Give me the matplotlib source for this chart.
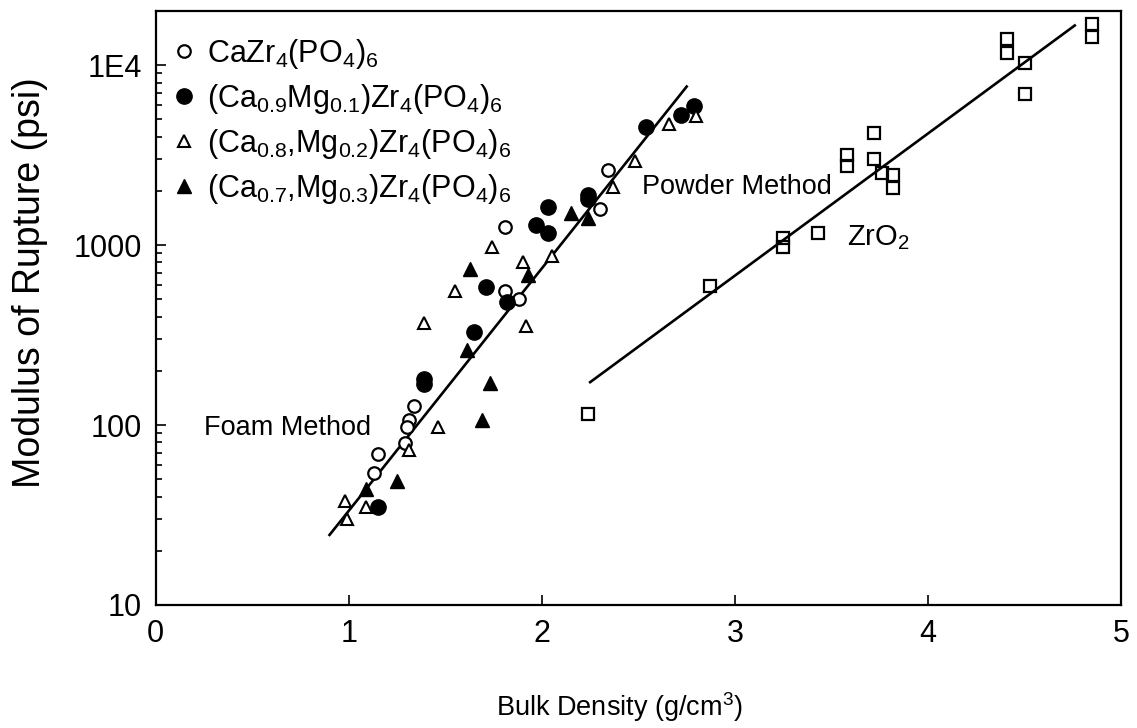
import matplotlib.pyplot as plt
import numpy as np
from matplotlib.ticker import FixedLocator, LogLocator, NullFormatter

plt.rcParams['font.family'] = ['Liberation Sans', 'DejaVu Sans']
plt.rcParams['mathtext.fontset'] = 'custom'
plt.rcParams['mathtext.rm'] = 'Liberation Sans'
plt.rcParams['mathtext.it'] = 'Liberation Sans'

# CaZr4(PO4)6  (open circles)
ca_x = [1.81, 1.81, 1.88, 1.34, 1.31, 1.30, 1.29, 1.15, 1.13, 2.34, 2.30]
ca_y = [1260, 555, 500, 127, 107, 98, 79, 69, 54, 2600, 1590]

# (Ca0.9Mg0.1)  (filled circles)
mg1_x = [1.97, 2.03, 2.03, 1.71, 1.82, 1.65, 1.39, 1.39, 1.15, 2.79, 2.72, 2.54, 2.24, 2.24]
mg1_y = [1290, 1170, 1620, 585, 480, 330, 180, 170, 35, 5900, 5300, 4550, 1900, 1800]

# (Ca0.8,Mg0.2)  (open triangles)
mg2_x = [1.74, 1.90, 1.55, 1.39, 1.92, 1.46, 1.31, 0.98, 1.09, 0.99, 2.80, 2.66, 2.48, 2.37, 2.05]
mg2_y = [980, 810, 555, 370, 355, 98, 73, 38, 35, 30, 5200, 4700, 2950, 2100, 870]

# (Ca0.7,Mg0.3)  (filled triangles)
mg3_x = [1.63, 1.93, 1.61, 1.73, 1.69, 1.25, 1.09, 2.15, 2.24]
mg3_y = [740, 680, 260, 172, 106, 49, 44, 1500, 1420]

# ZrO2 (open squares)
zr_x = [4.85, 4.85, 4.41, 4.41, 4.50, 4.50, 3.72, 3.58, 3.58, 3.72, 3.76, 3.82, 3.82,
        3.25, 3.25, 3.43, 2.87, 2.24]
zr_y = [17000, 14400, 13900, 11700, 10300, 6950, 4170, 3150, 2750, 3000, 2520, 2450, 2080,
        1100, 980, 1170, 590, 115]

# fitted lines (end points)
foam_line_x = [0.90, 2.75]
foam_line_y = [24.5, 7600]
zr_line_x = [2.25, 4.76]
zr_line_y = [173, 16600]

labels = [r'CaZr$_4$(PO$_4$)$_6$',
          r'(Ca$_{0.9}$Mg$_{0.1}$)Zr$_4$(PO$_4$)$_6$',
          r'(Ca$_{0.8}$,Mg$_{0.2}$)Zr$_4$(PO$_4$)$_6$',
          r'(Ca$_{0.7}$,Mg$_{0.3}$)Zr$_4$(PO$_4$)$_6$']

fig = plt.figure(figsize=(11.37, 7.28), dpi=100)
ax = fig.add_axes([0.137, 0.169, 0.849, 0.816])

ax.plot(foam_line_x, foam_line_y, color='black', lw=1.9, zorder=1)
ax.plot(zr_line_x, zr_line_y, color='black', lw=1.9, zorder=1)

ax.plot(ca_x, ca_y, 'o', ms=9, mfc='white', mec='black', mew=1.6, ls='none', label=labels[0])
ax.plot(mg1_x, mg1_y, 'o', ms=11, mfc='black', mec='black', ls='none', label=labels[1])
ax.plot(mg2_x, mg2_y, '^', ms=8, mfc='white', mec='black', mew=1.5, ls='none', label=labels[2])
ax.plot(mg3_x, mg3_y, '^', ms=10, mfc='black', mec='black', ls='none', label=labels[3])
ax.plot(zr_x, zr_y, 's', ms=9, mfc='none', mec='black', mew=1.6, ls='none')

ax.set_yscale('log')
ax.set_xlim(0, 5)
ax.set_ylim(10, 2e4)

ax.xaxis.set_major_locator(FixedLocator([0, 1, 2, 3, 4, 5]))
ax.yaxis.set_major_locator(FixedLocator([10, 100, 1000, 10000]))
ax.set_yticklabels(['10', '100', '1000', '1E4'])
ax.yaxis.set_minor_locator(LogLocator(base=10, subs=np.arange(2, 10)))
ax.yaxis.set_minor_formatter(NullFormatter())
ax.tick_params(axis='both', which='major', direction='in', length=7, width=1.2,
               labelsize=22, pad=10)
ax.tick_params(axis='y', which='minor', direction='in', length=4, width=1.2)

for s in ax.spines.values():
    s.set_linewidth(1.6)

ax.set_xlabel(r'Bulk Density (g/cm$^3$)', fontsize=19.5)
ax.xaxis.set_label_coords(0.48, -0.143)
ax.set_ylabel('Modulus of Rupture (psi)', fontsize=27)
ax.yaxis.set_label_coords(-0.112, 0.542)

ax.text(0.25, 96, 'Foam Method', fontsize=19.5, va='center', ha='left')
ax.text(2.52, 2100, 'Powder Method', fontsize=19.5, va='center', ha='left')
ax.text(3.58, 1100, r'ZrO$_2$', fontsize=21, va='center', ha='left')

ax.legend(loc='upper left', bbox_to_anchor=(-0.012, 0.992), frameon=False, fontsize=22,
          handletextpad=0.15, labelspacing=0.36, handlelength=1.2, borderaxespad=0.3)

fig.savefig('out.png', dpi=100)
